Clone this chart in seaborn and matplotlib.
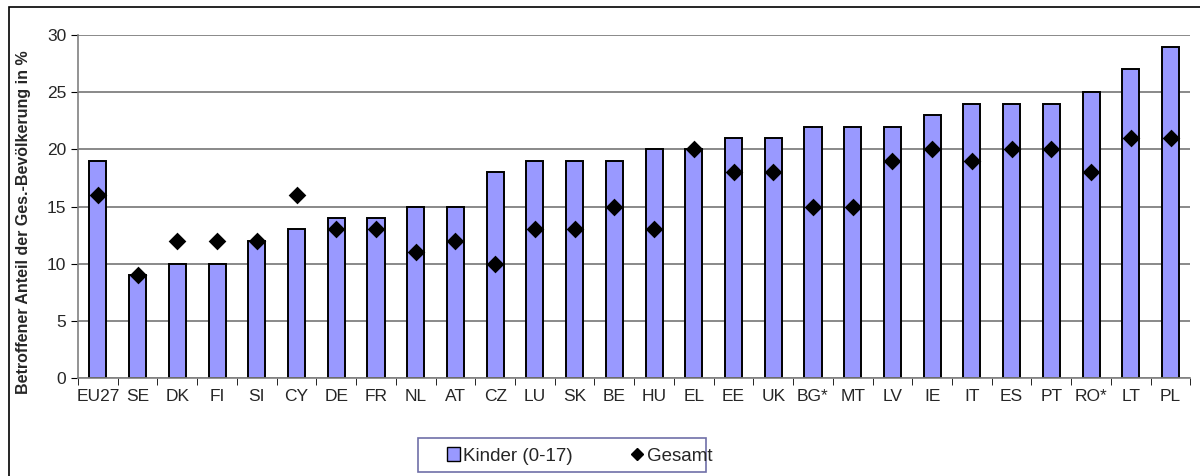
import numpy as np
import pandas as pd
import seaborn as sns
import matplotlib.pyplot as plt
from matplotlib.patches import Rectangle, Patch
from matplotlib.lines import Line2D

# Werte
laender = ['EU27', 'SE', 'DK', 'FI', 'SI', 'CY', 'DE', 'FR', 'NL', 'AT',
           'CZ', 'LU', 'SK', 'BE', 'HU', 'EL', 'EE', 'UK', 'BG*', 'MT',
           'LV', 'IE', 'IT', 'ES', 'PT', 'RO*', 'LT', 'PL']
kinder = [19, 9, 10, 10, 12, 13, 14, 14, 15, 15,
          18, 19, 19, 19, 20, 20, 21, 21, 22, 22,
          22, 23, 24, 24, 24, 25, 27, 29]
gesamt = [16, 9, 12, 12, 12, 16, 13, 13, 11, 12,
          10, 13, 13, 15, 13, 20, 18, 18, 15, 15,
          19, 20, 19, 20, 20, 18, 21, 21]
y_ticks = [0, 5, 10, 15, 20, 25, 30]

df = pd.DataFrame({'Land': laender, 'Kinder': kinder, 'Gesamt': gesamt})

sns.set_style('white')
plt.rcParams['font.family'] = ['Liberation Sans', 'DejaVu Sans']

W, H = 1200, 476
fig = plt.figure(figsize=(12, 4.76), dpi=100)
ax = fig.add_axes([0.065, 0.206, 0.927, 0.72])

sns.barplot(data=df, x='Land', y='Kinder', color='#9999FF', saturation=1,
            edgecolor='black', linewidth=1.4, width=0.43, ax=ax, zorder=2)
sns.stripplot(data=df, x='Land', y='Gesamt', jitter=False, marker='D',
              color='black', size=9, ax=ax, zorder=3)

ax.set_xlim(-0.5, len(laender) - 0.5)
ax.set_ylim(0, 30)
ax.set_yticks(y_ticks)
ax.yaxis.grid(True, color='#808080', linewidth=1.3, zorder=0)
ax.set_axisbelow(True)
ax.set_xlabel('')
ax.set_ylabel('')

for s in ['top', 'right']:
    ax.spines[s].set_visible(False)
ax.spines['left'].set_color('#808080')
ax.spines['bottom'].set_color('#808080')
ax.spines['left'].set_linewidth(1.2)
ax.spines['bottom'].set_linewidth(1.2)

ax.set_xticks(np.arange(-0.5, len(laender), 1.0), minor=True)
ax.tick_params(axis='x', which='major', length=0, labelsize=12.5, pad=8)
ax.tick_params(axis='x', which='minor', length=5, color='black', direction='out', bottom=True)
ax.tick_params(axis='y', length=5, color='black', labelsize=12.5, left=True, direction='out')

fig.text(24 / W, 1 - 222 / H, 'Betroffener Anteil der Ges.-Bevölkerung in %',
         rotation=90, ha='center', va='center', fontsize=11.5, fontweight='bold')

# Legendenrahmen
fig.add_artist(Rectangle((418 / W, 1 - 472 / H), 288 / W, 34 / H,
                         transform=fig.transFigure, fill=False,
                         edgecolor='#7070A8', linewidth=1.2))
handles = [Patch(facecolor='#9999FF', edgecolor='black', linewidth=1),
           Line2D([], [], marker='D', color='black', linestyle='none', markersize=6)]
fig.legend(handles, ['Kinder (0-17)', 'Gesamt'], ncol=2, loc='center left',
           bbox_to_anchor=(447 / W, 1 - 456 / H), fontsize=13.5, frameon=False,
           handlelength=0.7, handleheight=0.7, handletextpad=0.15,
           columnspacing=3.1, borderpad=0, borderaxespad=0)

# äußerer Rahmen
fig.add_artist(Rectangle((9 / W, -0.05), 1.1, 1.05 - 7 / H,
                         transform=fig.transFigure, fill=False,
                         edgecolor='black', linewidth=1.2))

fig.savefig('out.png', dpi=100)
